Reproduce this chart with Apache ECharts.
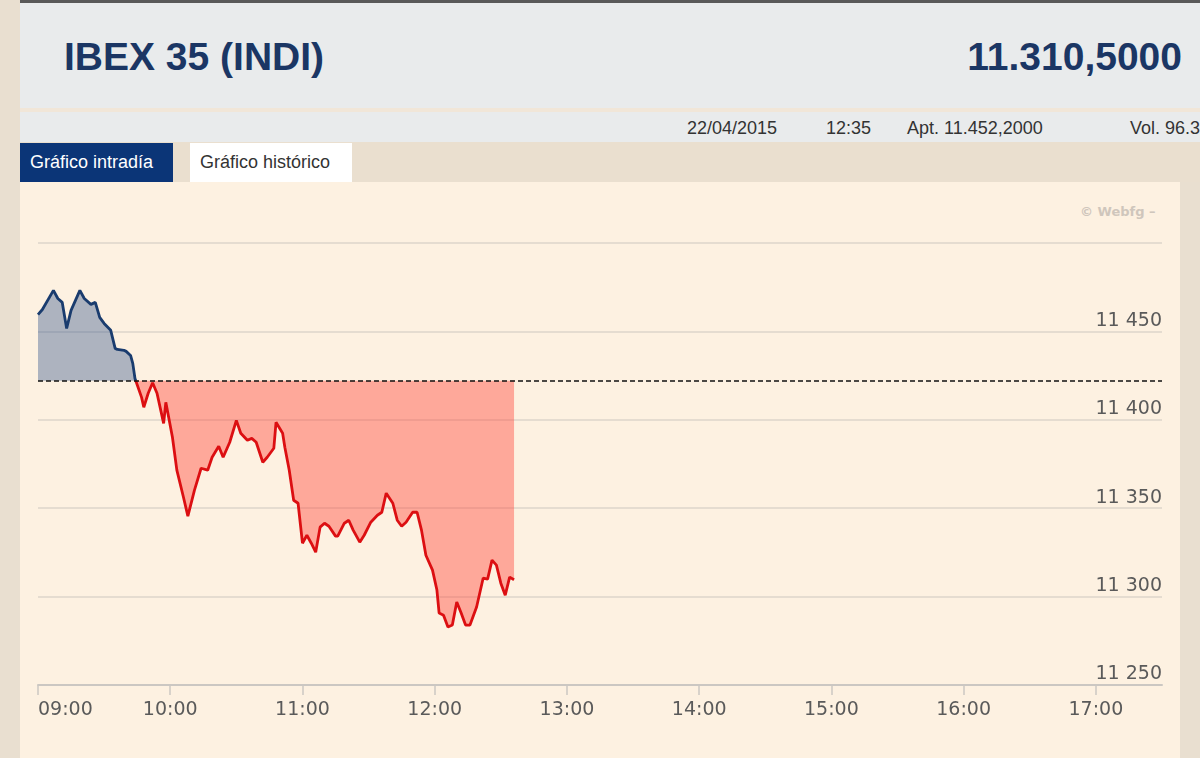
<!DOCTYPE html>
<html>
<head>
<meta charset="utf-8">
<script src="https://cdn.jsdelivr.net/npm/echarts@6/dist/echarts.min.js"></script>
<style>
  body { margin:0; width:1200px; height:758px; overflow:hidden; background:#e9dfd0; font-family:"Liberation Sans", Arial, sans-serif; position:relative; }
  .bar { position:absolute; left:20px; top:0; width:1180px; height:3px; background:#595959; }
  .head { position:absolute; left:20px; top:3px; width:1180px; height:105px; background:#e9ebec; }
  .sep { position:absolute; left:20px; top:108px; width:1180px; height:4px; background:#f1e6d8; }
  .info { position:absolute; left:20px; top:112px; width:1180px; height:30px; background:#e9ebec; font-size:18px; color:#333; }
  .info span { position:absolute; top:6px; white-space:nowrap; }
  .tabs { position:absolute; left:20px; top:142px; width:1180px; height:40px; background:#eadfcf; }
  .tab { position:absolute; top:1px; height:39px; line-height:39px; font-size:18px; padding:0 10px; box-sizing:border-box; }
  .t1 { left:0; width:153px; background:#0b3577; color:#fff; }
  .t2 { left:170px; width:162px; background:#fff; color:#333; }
  .panel { position:absolute; left:20px; top:182px; width:1160px; height:576px; background:#fdf1e1; }
  .title { position:absolute; left:64px; top:35px; font-size:39px; font-weight:bold; color:#1b3664; }
  .price { position:absolute; right:18px; top:35px; font-size:39px; font-weight:bold; color:#1b3664; }
  .mark { position:absolute; left:1080px; top:204px; font-size:13px; font-weight:bold; color:#cfc6bc; font-family:"DejaVu Sans", sans-serif; }
  #chart { position:absolute; left:0; top:182px; width:1200px; height:576px; }
</style>
</head>
<body>
<div class="bar"></div>
<div class="head"></div>
<div class="title">IBEX 35 (INDI)</div>
<div class="price">11.310,5000</div>
<div class="sep"></div>
<div class="info">
  <span style="left:667px">22/04/2015</span>
  <span style="left:806px">12:35</span>
  <span style="left:887px">Apt. 11.452,2000</span>
  <span style="left:1110px">Vol. 96.3</span>
</div>
<div class="tabs">
  <div class="tab t1">Gráfico intradía</div>
  <div class="tab t2">Gráfico histórico</div>
</div>
<div class="panel"></div>
<div class="mark">© Webfg –</div>
<div id="chart"></div>
<script>
// cotización intradía IBEX 35, 22/04/2015
var times = ["09:00","09:02","09:07","09:09","09:11","09:13","09:15","09:19","09:21","09:24","09:26","09:28","09:30","09:33","09:35","09:36","09:39","09:40","09:42","09:43","09:44","09:47","09:48","09:50","09:52","09:54","09:57","09:58",
  "10:01","10:03","10:06","10:08","10:11","10:14","10:17","10:19","10:22","10:24","10:27","10:30","10:32","10:35","10:37","10:39","10:42","10:44","10:47","10:48","10:51","10:52","10:54","10:56","10:58",
  "11:00","11:02","11:04","11:06","11:08","11:10","11:12","11:15","11:16","11:19","11:21","11:23","11:26","11:28","11:31","11:34","11:36","11:38","11:41","11:43","11:45","11:47","11:50","11:52","11:54","11:56","11:59",
  "12:01","12:02","12:04","12:06","12:08","12:10","12:12","12:14","12:16","12:19","12:22","12:24","12:26","12:28","12:30","12:32","12:34","12:36"];
var values = [11459.5,11462.4,11473.2,11468.6,11466.4,11451.7,11461.9,11473.2,11468.6,11465.3,11466.4,11457.9,11454.5,11450.6,11440.4,11439.8,11439.3,11438.7,11436.4,11431.9,11423.4,11412.7,11407.1,11415.0,11421.0,11415.0,11398.0,11409.9,
  11390.1,11371.5,11356.2,11345.5,11360.2,11372.6,11371.5,11378.8,11385.0,11378.8,11387.3,11399.7,11392.4,11388.4,11389.5,11387.3,11376.0,11378.8,11383.9,11398.6,11392.4,11384.5,11371.5,11354.5,11352.8,
  11330.2,11334.7,11330.2,11325.1,11339.3,11341.5,11339.8,11334.2,11334.2,11341.5,11343.2,11337.6,11330.8,11334.7,11342.1,11346.0,11347.7,11358.5,11352.8,11343.2,11339.8,11342.1,11347.7,11347.7,11337.6,11323.4,11315.0,
  11303.7,11290.7,11289.5,11282.8,11283.9,11296.9,11290.7,11283.9,11283.9,11294.1,11310.5,11309.9,11320.6,11317.8,11307.6,11300.8,11311.0,11309.5];
var hourLabels = ["09:00","10:00","11:00","12:00","13:00","14:00","15:00","16:00","17:00"];
var cierreAnterior = 11422.1;

function toMin(t) { var p = t.split(':'); return (+p[0] - 9) * 60 + (+p[1]); }
var serie = times.map(function (t, i) { return [toMin(t), values[i]]; });
var hourTicks = hourLabels.map(toMin);

// tramo por encima (azul) y por debajo (rojo) del cierre anterior
var k = 1;
while (k < serie.length && serie[k][1] >= cierreAnterior) k++;
var a = serie[k - 1], b = serie[k];
var cruce = [a[0] + (b[0] - a[0]) * (a[1] - cierreAnterior) / (a[1] - b[1]), cierreAnterior];
var sobre = serie.slice(0, k).concat([cruce]);
var bajo = [cruce].concat(serie.slice(k));

var chart = echarts.init(document.getElementById('chart'));
chart.setOption({
  animation: false,
  grid: { left: 38, right: 38, top: 61, bottom: 73 },
  xAxis: {
    type: 'value', min: 0, max: 510,
    axisLine: { lineStyle: { color: '#cbc7c2', width: 2 } },
    axisTick: { customValues: hourTicks, length: 10, lineStyle: { color: '#cbc7c2', width: 1.5 } },
    axisLabel: {
      customValues: hourTicks, alignMinLabel: 'left', margin: 16,
      color: '#5a5a5a', fontSize: 19, fontFamily: 'DejaVu Sans',
      formatter: function (v) { return hourLabels[hourTicks.indexOf(v)] || ''; }
    },
    splitLine: { show: false }
  },
  yAxis: {
    type: 'value', position: 'right', min: 11250, max: 11500, interval: 50,
    axisLine: { show: false }, axisTick: { show: false },
    axisLabel: {
      inside: true, margin: 0, showMaxLabel: false, verticalAlign: 'bottom', padding: [0, 0, 1, 0],
      color: '#5a5a5a', fontSize: 19, fontFamily: 'DejaVu Sans',
      formatter: function (v) { return String(v).replace(/(\d{2})(\d{3})/, '$1 $2'); }
    },
    splitLine: { lineStyle: { color: '#ddd5ca', width: 1.5 } }
  },
  series: [{
    type: 'line', data: sobre, showSymbol: false, symbol: 'none',
    lineStyle: { width: 2.8, color: '#1a3c6e' },
    areaStyle: { origin: cierreAnterior, color: '#2a4f8a', opacity: 0.38 },
    markLine: {
      silent: true, symbol: ['none', 'none'], label: { show: false },
      lineStyle: { color: '#111', type: [5, 3], width: 1.5 },
      data: [{ yAxis: cierreAnterior }]
    }
  }, {
    type: 'line', data: bajo, showSymbol: false, symbol: 'none',
    lineStyle: { width: 2.8, color: '#dc0f12' },
    areaStyle: { origin: cierreAnterior, color: '#ff3b2f', opacity: 0.4 }
  }]
});
</script>
</body>
</html>
